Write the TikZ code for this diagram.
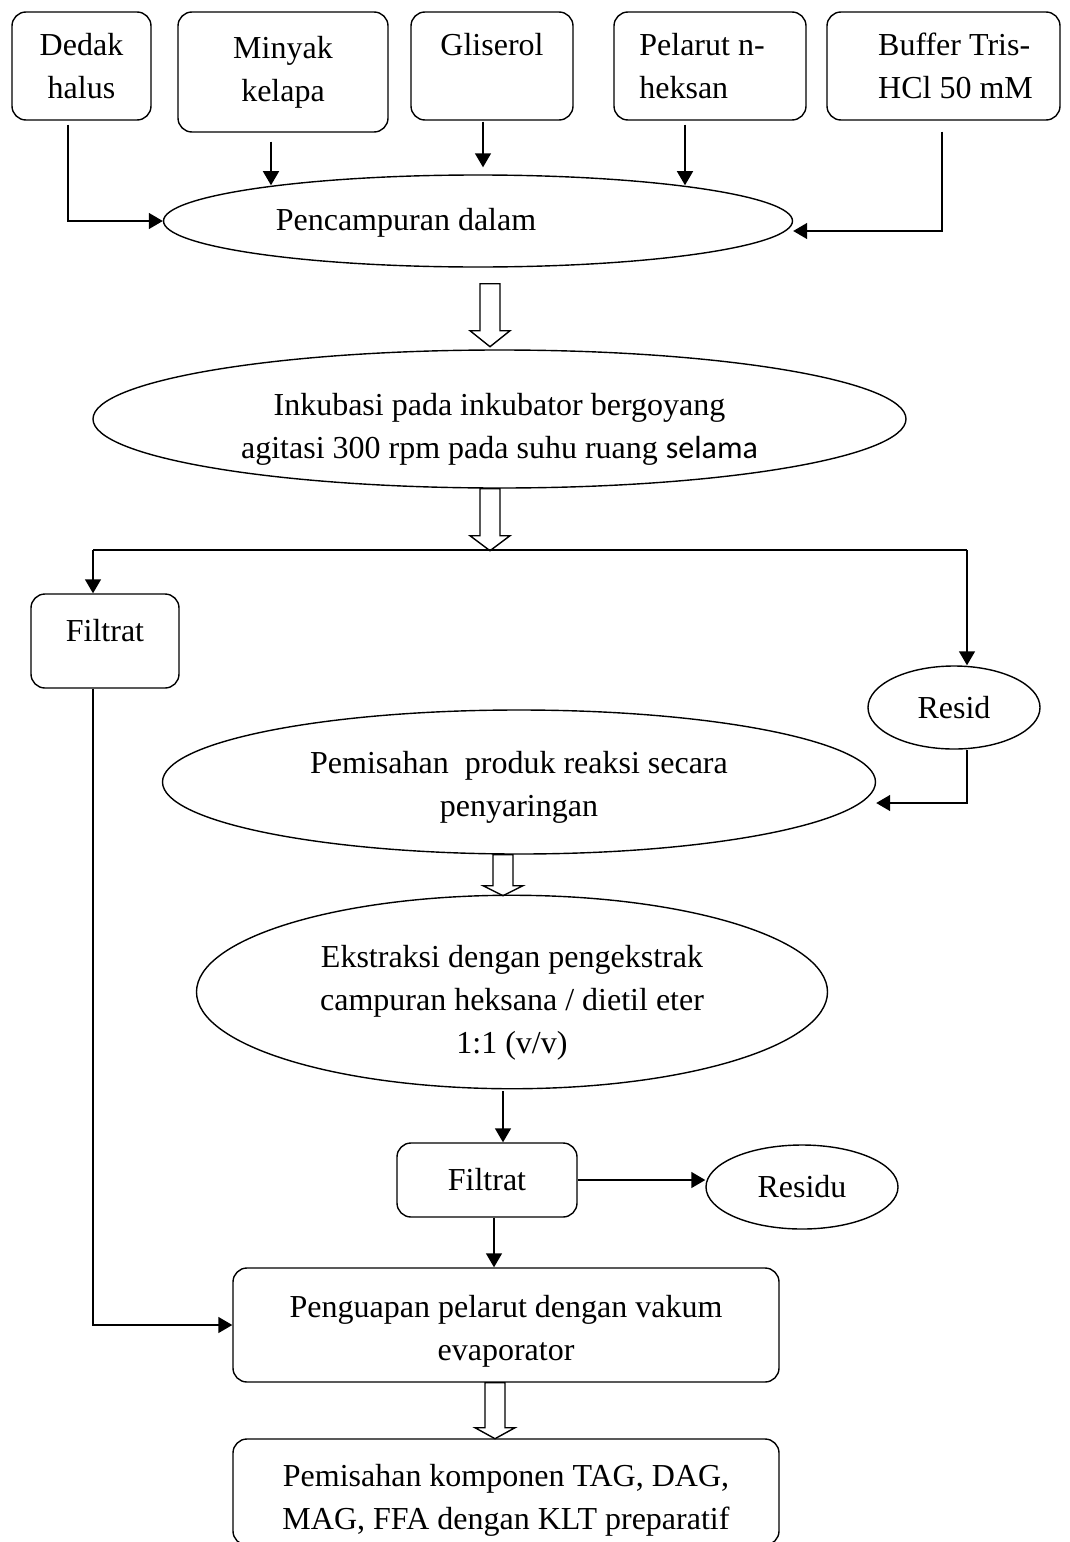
\documentclass[tikz,border=0pt]{standalone}
\usepackage{fontspec}
\setmainfont{Liberation Serif}
\newfontfamily\calibri{Carlito}
\usetikzlibrary{shapes.geometric, arrows.meta, calc}

\tikzset{
  box/.style={draw, rounded corners=7pt, align=center, inner sep=0pt},
  oval/.style={draw, ellipse, align=center, inner sep=0pt},
  arr/.style={-{Triangle[length=7pt,width=8pt]}}
}

\newcommand{\blockarrow}[3]{%
  \draw (#1) ++(-10,0) -- ++(0,#2-#3) -- ++(-10,0) -- ++(20,#3) -- ++(20,-#3)
    -- ++(-10,0) -- ++(0,#3-#2) -- cycle;}

\begin{document}
\begin{tikzpicture}[x=0.5pt, y=-0.5pt, line width=0.7pt, font=\fontsize{16}{21.5}\selectfont]
  \useasboundingbox (0,0) rectangle (1070,1542);
  % bahan
  \node[box, minimum width=69.5pt, minimum height=54pt] (dh) at (81.5,66) {Dedak\\halus};
  \node[box, minimum width=105pt, minimum height=60pt] (mk) at (283,72) {Minyak\\kelapa};
  \node[box, minimum width=81pt, minimum height=54pt] (gl) at (492,66) {Gliserol\\~};
  \node[box, minimum width=96pt, minimum height=54pt, align=left] (pn) at (710,66) {Pelarut n-\hspace*{8pt}\\heksan};
  \node[box, minimum width=116.5pt, minimum height=54pt, align=left] (bf) at (943.5,66) {\hspace*{12pt}Buffer Tris-\\\hspace*{12pt}HCl 50 mM};
  % proses
  \node[oval, minimum width=314.5pt, minimum height=46pt] (pcm) at (478,221) {\rule{0pt}{13pt}Pencampuran dalam\hspace*{72pt}};
  \node[oval, minimum width=406.5pt, minimum height=69pt] (ink) at (499.5,419) {\rule{0pt}{21pt}Inkubasi pada inkubator bergoyang\\agitasi 300 rpm pada suhu ruang {\calibri selama}};
  \node[box, minimum width=74pt, minimum height=47pt, text depth=11pt] (f1) at (105,641) {Filtrat};
  \node[oval, minimum width=86pt, minimum height=41.5pt] (rs) at (954,707.5) {Resid};
  \node[oval, minimum width=356.5pt, minimum height=72pt] (pms) at (519,782) {\rule{0pt}{16pt}Pemisahan\ \ produk reaksi secara\\penyaringan};
  \node[oval, minimum width=315.5pt, minimum height=95pt] (ek) at (512,992) {\rule{0pt}{22pt}Ekstraksi dengan pengekstrak\\campuran heksana / dietil eter\\1:1 (v/v)};
  \node[box, minimum width=90pt, minimum height=37pt] (f2) at (487,1180) {Filtrat};
  \node[oval, minimum width=96pt, minimum height=42pt] (rd) at (802,1187) {Residu};
  \node[box, minimum width=273pt, minimum height=57pt] (pgp) at (506,1325) {\rule{0pt}{17pt}Penguapan pelarut dengan vakum\\evaporator};
  \node[box, minimum width=273pt, minimum height=53pt] (kmp) at (506,1492) {\rule{0pt}{19pt}Pemisahan komponen TAG, DAG,\\MAG, FFA dengan KLT preparatif};

  % panah masuk
  \draw[arr] ([xshift=-6.75pt,yshift=-2pt]dh.south) |- (pcm.west);
  \coordinate (mkd) at ([xshift=-6pt,yshift=-4.5pt]mk.south);
  \draw[arr] (mkd) -- (mkd |- pcm.170);
  \coordinate (gld) at ([xshift=-4.5pt,yshift=-0.5pt]gl.south);
  \draw[arr, shorten >=3.5pt] (gld) -- (gld |- pcm.north);
  \coordinate (pnd) at ([xshift=-12.5pt,yshift=-2pt]pn.south);
  \draw[arr] (pnd) -- (pnd |- pcm.10);
  \draw[arr] ([xshift=-0.75pt,yshift=-5.5pt]bf.south) |- ($(pcm.east)+(0,10)$);

  % panah blok dan cabang
  \blockarrow{[xshift=6pt,yshift=-8pt]pcm.south}{63}{16}
  \blockarrow{[xshift=-4.75pt]ink.south}{62}{15}
  \coordinate (lft) at (93,550);
  \coordinate (rgt) at (967,550);
  \draw (lft) -- (rgt);
  \draw[arr] (lft) -- (lft |- f1.north);
  \draw[arr] (rgt) -- (rgt |- rs.north);
  \draw[arr] (rgt |- rs.south) |- ($(pms.east)+(0,21)$);
  \draw[arr] (lft |- f1.south) |- (pgp.west);
  \blockarrow{[xshift=-8pt]pms.south}{41}{10}
  \coordinate (ekd) at ([xshift=-4.5pt,yshift=-1pt]ek.south);
  \draw[arr] (ekd) -- (ekd |- f2.north);
  \draw[arr] (f2.east) -- (f2.east -| rd.west);
  \coordinate (f2d) at ([xshift=3.5pt]f2.south);
  \draw[arr] (f2d) -- (f2d |- pgp.north);
  \blockarrow{[xshift=-5.5pt]pgp.south}{56}{11}
\end{tikzpicture}
\end{document}
